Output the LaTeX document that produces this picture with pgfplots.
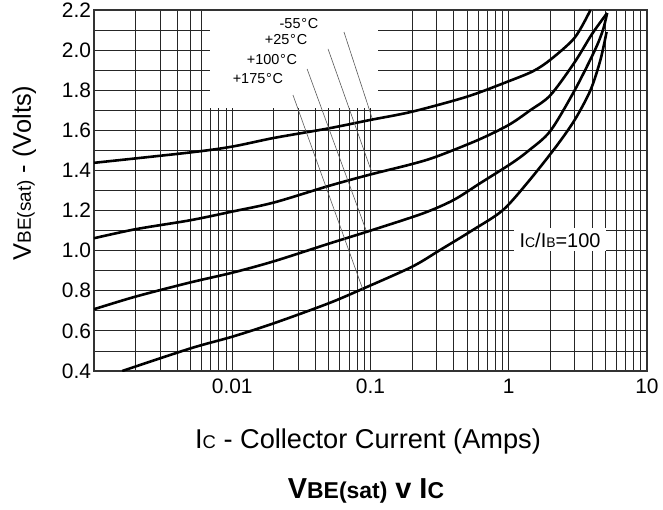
\documentclass[border=0pt]{standalone}
\usepackage{fontspec}
\setmainfont{Liberation Sans}
\usepackage{pgfplots}
\pgfplotsset{compat=1.18}
\begin{document}
\begin{tikzpicture}
\begin{axis}[
  scale only axis, width=553bp, height=361bp,
  xmode=log, log basis x=10,
  xmin=0.001, xmax=10, ymin=0.4, ymax=2.2,
  xtick={0.01,0.1,1,10}, xticklabels={0.01,0.1,1,10},
  minor xtick={0.002,0.003,0.004,0.005,0.006,0.007,0.008,0.009,
               0.02,0.03,0.04,0.05,0.06,0.07,0.08,0.09,
               0.2,0.3,0.4,0.5,0.6,0.7,0.8,0.9,
               2,3,4,5,6,7,8,9},
  ytick={0.4,0.6,0.8,1.0,1.2,1.4,1.6,1.8,2.0,2.2},
  yticklabels={0.4,0.6,0.8,1.0,1.2,1.4,1.6,1.8,2.0,2.2},
  minor ytick={0.5,0.7,0.9,1.1,1.3,1.5,1.7,1.9,2.1},
  xmajorgrids, xminorgrids, ymajorgrids, yminorgrids,
  major grid style={black!85, line width=0.8pt},
  minor grid style={black!85, line width=0.8pt},
  major tick length=0pt, minor tick length=0pt,
  axis line style={black!80, line width=1.2pt},
  /pgf/number format/assume math mode=true,
  ticklabel style={font=\fontsize{21}{21}\selectfont},
  xticklabel style={text height=15bp, text depth=0pt, yshift=-4bp},
  yticklabel style={xshift=0.5bp},
]
% white box behind temperature labels
\fill[white] (axis cs:0.0069,1.712) rectangle (axis cs:0.113,2.193);

% curves
\addplot[black, line width=2.6pt, smooth, tension=0.5] coordinates {
 (0.001,1.438) (0.005,1.49) (0.01,1.519) (0.02,1.562) (0.05,1.61)
 (0.1,1.652) (0.2,1.693) (0.5,1.768) (1,1.845) (1.5,1.895) (2,1.952)
 (3,2.062) (3.9,2.2)};
\addplot[black, line width=2.6pt, smooth, tension=0.5] coordinates {
 (0.001,1.062) (0.002,1.107) (0.005,1.152) (0.01,1.195) (0.02,1.24)
 (0.05,1.323) (0.1,1.38) (0.2,1.432) (0.3,1.469) (0.6,1.552) (1,1.627)
 (1.43,1.70) (2,1.775) (3,1.94) (4,2.08) (5.15,2.185)};
\addplot[black, line width=2.6pt, smooth, tension=0.5] coordinates {
 (0.001,0.708) (0.002,0.771) (0.005,0.842) (0.01,0.89) (0.02,0.947)
 (0.05,1.035) (0.1,1.10) (0.24,1.186) (0.4,1.253) (0.62,1.336)
 (1.05,1.436) (1.4,1.5) (2,1.597) (3,1.80) (4.2,2.0) (4.8,2.1) (5.15,2.185)};
\addplot[black, line width=2.6pt, smooth, tension=0.5] coordinates {
 (0.0016,0.40) (0.005,0.513) (0.01,0.571) (0.02,0.638) (0.05,0.738)
 (0.09,0.813) (0.2,0.92) (0.32,1.004) (0.55,1.103) (0.91,1.203)
 (1.42,1.353) (2.2,1.519) (3.0,1.652) (3.9,1.8) (4.6,1.95) (5.1,2.09)};

% leader lines
\addplot[black!65, line width=0.6pt] coordinates {(0.0643,2.09) (0.1026,1.662)};
\addplot[black!65, line width=0.6pt] coordinates {(0.0493,2.006) (0.1026,1.387)};
\addplot[black!65, line width=0.6pt] coordinates {(0.0348,1.906) (0.0927,1.103)};
\addplot[black!65, line width=0.6pt] coordinates {(0.0275,1.776) (0.0883,0.804)};

% temperature labels
\node[font=\fontsize{14.5}{14.5}\selectfont, inner sep=0pt] at (axis cs:0.0304,2.135) {-55\kern0.8bp°\kern0.8bp C};
\node[font=\fontsize{14.5}{14.5}\selectfont, inner sep=0pt] at (axis cs:0.0245,2.055) {+25\kern0.8bp°\kern0.8bp C};
\node[font=\fontsize{14.5}{14.5}\selectfont, inner sep=0pt] at (axis cs:0.0194,1.951) {+100\kern0.8bp°\kern0.8bp C};
\node[font=\fontsize{14.5}{14.5}\selectfont, inner sep=0pt] at (axis cs:0.01535,1.856) {+175\kern0.8bp°\kern0.8bp C};

% IC/IB label
\node[fill=white, inner xsep=6bp, inner ysep=0pt, minimum height=23bp,
      font=\fontsize{20}{20}\selectfont] at (axis cs:2.35,1.0535)
  {I{\fontsize{14}{14}\selectfont C}/I{\fontsize{14}{14}\selectfont B}=100};
\end{axis}

% axis labels and title
\node[anchor=base, font=\fontsize{27.3}{28}\selectfont]
  at ([shift={(274bp,-77bp)}]current axis.south west)
  {I{\fontsize{18.5}{18.5}\selectfont C} - Collector Current (Amps)};
\node[anchor=base, font=\bfseries\fontsize{29}{29}\selectfont]
  at ([shift={(272bp,-127bp)}]current axis.south west)
  {V{\fontsize{23}{23}\selectfont BE(sat)} v I{\fontsize{23}{23}\selectfont C}};
\node[anchor=base, rotate=90, font=\fontsize{25.5}{25.5}\selectfont]
  at ([shift={(-63bp,198bp)}]current axis.south west)
  {V{\fontsize{19}{19}\selectfont BE(sat)} - (Volts)};

\pgfresetboundingbox
\path ([shift={(-94bp,-139bp)}]current axis.south west) rectangle ++(663bp,510bp);
\end{tikzpicture}
\end{document}
